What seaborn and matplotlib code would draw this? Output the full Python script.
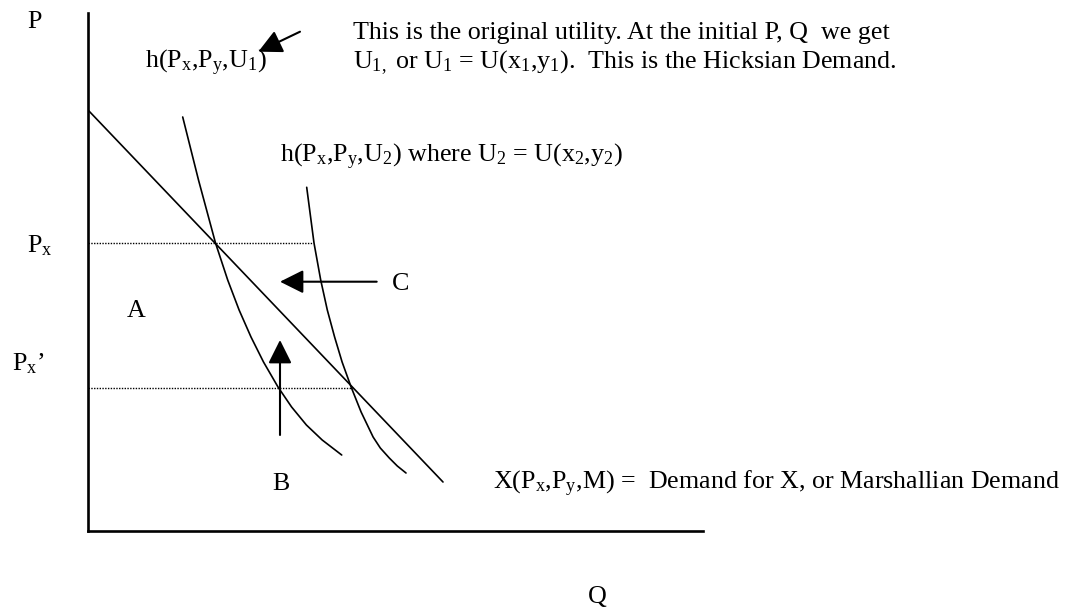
import numpy as np
import pandas as pd
import matplotlib
matplotlib.use("Agg")
import matplotlib.pyplot as plt
import seaborn as sns

# Quantity / price values (axis units)
marshall_q = [0.0, 35.5]
marshall_p = [42.1, 4.9]

hicks_u1_q = [9.47, 11.05, 12.75, 13.97, 15.11, 16.3, 17.55, 19.0, 20.36, 21.84, 23.42, 25.37]
hicks_u1_p = [41.4, 35.1, 28.8, 25.1, 22.1, 19.4, 16.9, 14.4, 12.4, 10.6, 9.1, 7.6]

hicks_u2_q = [21.87, 22.6, 23.27, 23.93, 24.66, 25.41, 26.31, 27.31, 28.51, 29.23, 30.13, 30.93, 31.8]
hicks_u2_p = [34.37, 28.8, 25.1, 22.1, 19.4, 16.9, 14.4, 11.9, 9.4, 8.3, 7.3, 6.5, 5.8]

price_levels = [28.8, 14.3]      # Px, Px'
price_line_end_q = [22.4, 26.5]

# arrows: (tail q, tail p, head q, head p)
arrow_c = [28.87, 24.93, 19.2, 24.93]
arrow_b = [19.2, 9.6, 19.2, 19.1]
arrow_u1 = [21.2, 49.93, 17.03, 47.93]

sns.set_theme(style="white")
plt.rcParams['font.family'] = ['Liberation Serif', 'DejaVu Serif']
plt.rcParams['text.color'] = 'black'
plt.rcParams['mathtext.fontset'] = 'custom'
plt.rcParams['mathtext.rm'] = 'Liberation Serif'
plt.rcParams['mathtext.it'] = 'Liberation Serif:italic'

fig = plt.figure(figsize=(10.89, 6.10), dpi=100)
ax = fig.add_axes([88 / 1089, 79 / 610, 615 / 1089, 518.3 / 610])
ax.set_xlim(0, 61.5)
ax.set_ylim(0, 51.83)
ax.set_xticks([])
ax.set_yticks([])
for side in ['top', 'right']:
    ax.spines[side].set_visible(False)
for side in ['left', 'bottom']:
    ax.spines[side].set_color('black')
    ax.spines[side].set_linewidth(1.9)

curves = pd.concat([
    pd.DataFrame({"Q": marshall_q, "P": marshall_p, "curve": "X"}),
    pd.DataFrame({"Q": hicks_u1_q, "P": hicks_u1_p, "curve": "hU1"}),
    pd.DataFrame({"Q": hicks_u2_q, "P": hicks_u2_p, "curve": "hU2"}),
])
sns.lineplot(data=curves, x="Q", y="P", units="curve", estimator=None,
             sort=False, color="black", linewidth=1.2, ax=ax, legend=False)

for p, q_end in zip(price_levels, price_line_end_q):
    sns.lineplot(x=[0, q_end], y=[p, p], color="black", linewidth=1.0,
                 linestyle=(0, (1, 1)), ax=ax, legend=False)

arrow_style = dict(arrowstyle='-|>,head_length=1.0,head_width=0.5',
                   mutation_scale=14.4, color='black', lw=1.5,
                   shrinkA=0, shrinkB=0)
for a in [arrow_c, arrow_b, arrow_u1]:
    ax.annotate('', xy=(a[2], a[3]), xytext=(a[0], a[1]),
                arrowprops=arrow_style, annotation_clip=False)

fs = 18.7
def label(q, p, s, ha='left'):
    ax.text(q, p, s, fontsize=fs, ha=ha, va='baseline', color='black', clip_on=False)

sx = r'$_{\mathrm{x}}$'
sy = r'$_{\mathrm{y}}$'

label(-6.1, 50.3, 'P')
label(5.7, 46.3, 'h(P' + sx + ',P' + sy + r',U$_{1}$)')
label(26.5, 49.2, 'This is the original utility. At the initial P, Q  we get')
label(26.5, 46.3, r'U$_{1,}$ or U$_{1}$ = U(x$_{1}$,y$_{1}$).  This is the Hicksian Demand.')
label(19.2, 36.9, 'h(P' + sx + ',P' + sy + r',U$_{2}$) where U$_{2}$ = U(x$_{2}$,y$_{2}$)')
label(-6.1, 27.9, 'P' + sx)
label(3.9, 21.4, 'A')
label(-7.6, 16.1, 'P' + sx + '\u2019')
label(30.4, 24.1, 'C')
label(18.4, 4.1, 'B')
label(40.5, 4.2, 'X(P' + sx + ',P' + sy + ',M) =  Demand for X, or Marshallian Demand')
label(50.9, -7.2, 'Q', ha='center')

fig.savefig("out.png", dpi=100)
